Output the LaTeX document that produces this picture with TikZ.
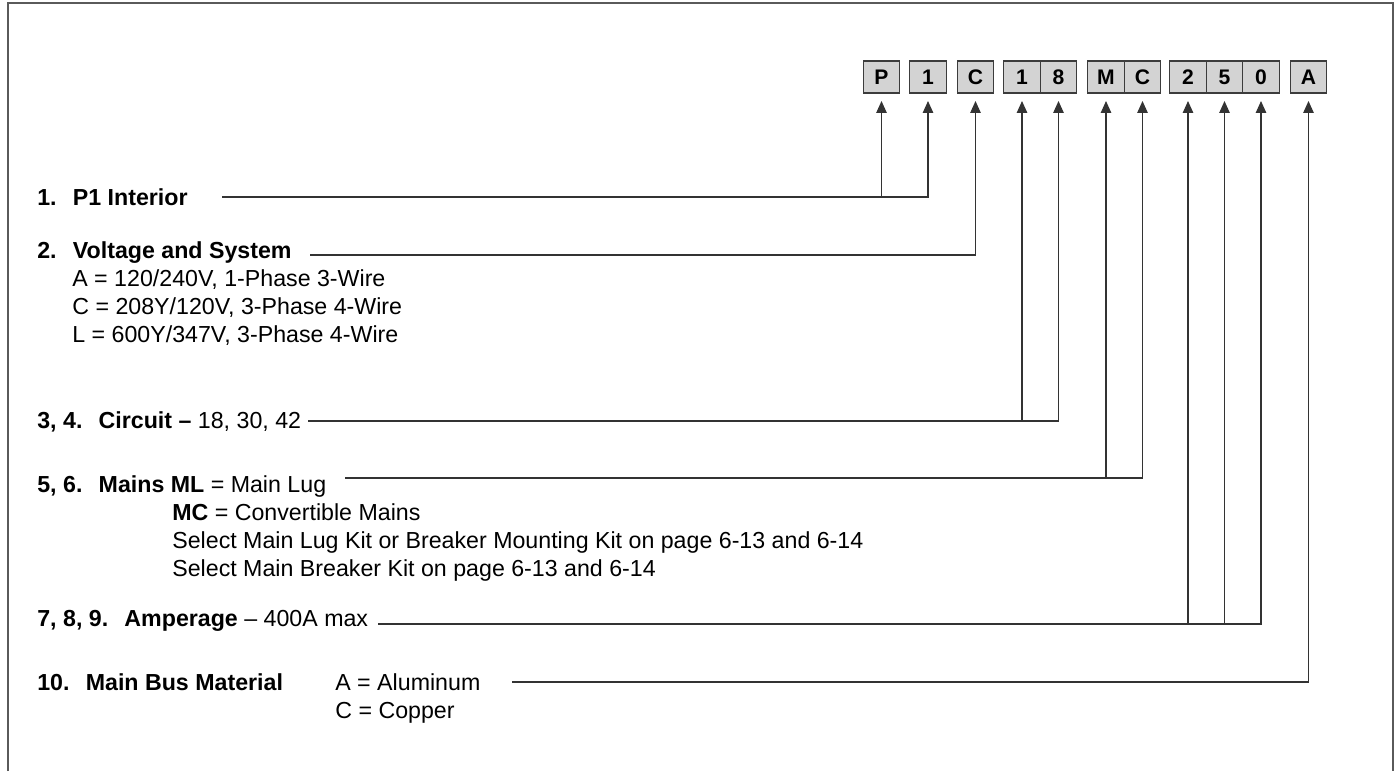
\documentclass[tikz,border=0pt]{standalone}
\usepackage{fontspec}
\setmainfont{Liberation Sans}
\usetikzlibrary{arrows.meta,positioning}
\definecolor{cellfill}{HTML}{D3D3D3}
\definecolor{cellline}{HTML}{3C3C3C}
\definecolor{frameline}{HTML}{5A5A5A}
\definecolor{wireline}{HTML}{333333}

\begin{document}
\begin{tikzpicture}[x=0.02cm,y=-0.02cm,
  cell/.style={draw=cellline,fill=cellfill,line width=0.7pt,minimum width=0.73cm,minimum height=0.64cm,inner sep=0pt,outer sep=0pt,font=\fontsize{12}{14}\selectfont\bfseries},
  txt/.style={anchor=base west,inner sep=0pt,font=\fontsize{13.2}{15.9}\selectfont},
  wire/.style={draw=wireline,line width=0.7pt},
  arrow/.style={wire,-{Triangle[length=2.4mm,width=2.1mm]},shorten >=1.6mm}
]
\useasboundingbox (0,0) rectangle (1399,771);
\draw[frameline,line width=1.1pt] (8,771) -- (8,3) -- (1393,3) -- (1393,771);
\foreach \i/\x/\c in {1/881.5/P,2/928/1,3/975.5/C,4/1022/1,5/1058.5/8,6/1106/M,7/1142.5/C,8/1188/2,9/1224.5/5,10/1261/0,11/1308.5/A}
  \node[cell] (pos\i) at (\x,77) {\c};
\node[txt] (lbl1) at (37,205) {\textbf{1.\hspace{0.7em}P1 Interior}};
\node[txt] (lbl2) at (37,258) {\textbf{2.\hspace{0.7em}Voltage and System}};
\node[txt] (opt2a) at (72,286) {A = 120/240V, 1-Phase 3-Wire};
\node[txt] (opt2b) at (72,314) {C = 208Y/120V, 3-Phase 4-Wire};
\node[txt] (opt2c) at (72,342) {L = 600Y/347V, 3-Phase 4-Wire};
\node[txt] (lbl3) at (37,428) {\textbf{3, 4.\hspace{0.7em}Circuit --} 18, 30, 42};
\node[txt] (lbl5) at (37,492) {\textbf{5, 6.\hspace{0.7em}Mains ML} = Main Lug};
\node[txt] (opt5a) at (172,520) {\textbf{MC} = Convertible Mains};
\node[txt] (opt5b) at (172,548) {Select Main Lug Kit or Breaker Mounting Kit on page 6-13 and 6-14};
\node[txt] (opt5c) at (172,576) {Select Main Breaker Kit on page 6-13 and 6-14};
\node[txt] (lbl7) at (37,626) {\textbf{7, 8, 9.\hspace{0.7em}Amperage} -- 400A max};
\node[txt] (lbl10) at (37,690) {\textbf{10.\hspace{0.7em}Main Bus Material}};
\node[txt] (opt10a) at (335,690) {A = Aluminum};
\node[txt] (opt10b) at (335,718) {C = Copper};
\coordinate (s1) at (222,197);
\coordinate (s2) at (310,255);
\coordinate (s3) at (308,421);
\coordinate (s5) at (345,478);
\coordinate (s7) at (378,624);
\coordinate (s10) at (512,682);
\draw[arrow] (s1) -| (pos2);
\draw[arrow] (pos1 |- s1) -- (pos1);
\draw[arrow] (s2) -| (pos3);
\draw[arrow] (s3) -| (pos5);
\draw[arrow] (pos4 |- s3) -- (pos4);
\draw[arrow] (s5) -| (pos7);
\draw[arrow] (pos6 |- s5) -- (pos6);
\draw[arrow] (s7) -| (pos10);
\draw[arrow] (pos8 |- s7) -- (pos8);
\draw[arrow] (pos9 |- s7) -- (pos9);
\draw[arrow] (s10) -| (pos11);
\end{tikzpicture}
\end{document}
